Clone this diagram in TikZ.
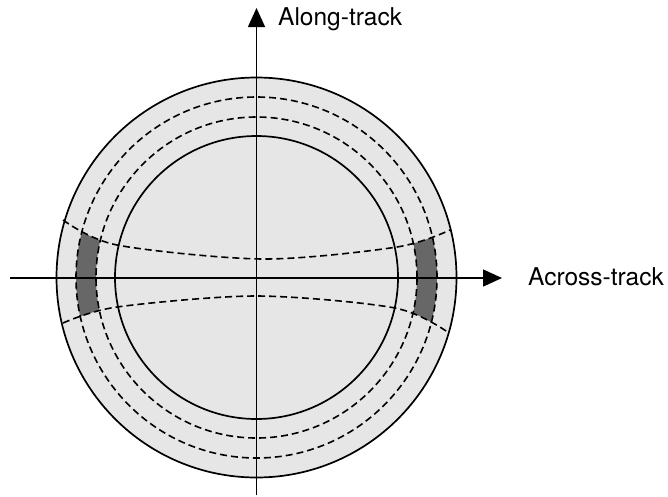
\documentclass[tikz,border=0pt]{standalone}
\usepackage{fontspec}
\setmainfont{TeX Gyre Heros}
\usetikzlibrary{arrows.meta}
\definecolor{disk}{HTML}{E6E6E6}
\definecolor{patch}{HTML}{676767}
\tikzset{
  solidline/.style={line width=1.7pt, black},
  dashline/.style={line width=1.6pt, black, dash pattern=on 7pt off 4pt},
  axisline/.style={line width=1.4pt, black, -{Triangle[length=19pt,width=17pt]}},
  lbl/.style={font=\fontsize{24.5}{29}\selectfont, inner sep=0pt}
}
\begin{document}
\begin{tikzpicture}[x=1pt,y=-1pt]
\useasboundingbox (0,0) rectangle (668,496);
\coordinate (c) at (256.5,277.5);
% disk
\fill[disk] (c) circle[radius=200pt];
% patches
\begin{scope}
\clip plot[smooth] coordinates {(40,205) (63,220) (117,245) (263,259) (397,247) (450,230) (470,222)}
   -- plot[smooth] coordinates {(470,345) (449,333) (395,308) (257,296) (117,307) (63,323) (40,330)} -- cycle;
\fill[patch, even odd rule] (c) circle[radius=180.5pt] (c) circle[radius=160.5pt];
\end{scope}
% dashed circles
\draw[dashline] (c) circle[radius=180.5pt];
\draw[dashline] (c) circle[radius=160.5pt];
% swath curves
\draw[dashline] plot[smooth] coordinates {(63,220) (117,245) (263,259) (397,247) (450,230)};
\draw[dashline] plot[smooth] coordinates {(63,323) (117,307) (257,296) (395,308) (449,333)};
% solid circles
\draw[solidline] (c) circle[radius=200pt];
\draw[solidline] (c) circle[radius=141.5pt];
% axes
\coordinate (xs) at (10,278);
\coordinate (xe) at (502,278);
\coordinate (ys) at (256.5,495);
\coordinate (ye) at (256.5,8);
\draw[axisline] (xs) -- (xe);
\draw[axisline] (ys) -- (ye);
% labels
\node[lbl, anchor=base west] (along) at (278,25) {Along-track};
\node[lbl, anchor=base west] (across) at (528,285) {Across-track};
\end{tikzpicture}
\end{document}
